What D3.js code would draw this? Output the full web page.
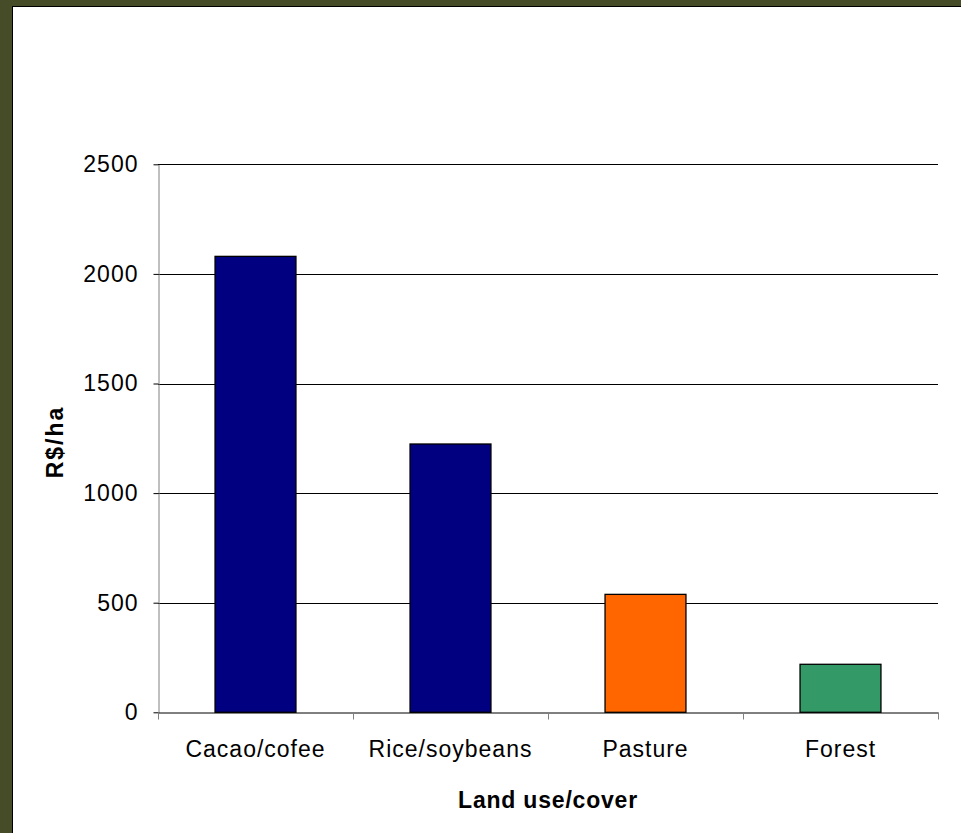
<!DOCTYPE html>
<html><head><meta charset="utf-8">
<script src="https://cdn.jsdelivr.net/npm/d3@7"></script>
<style>html,body{margin:0;padding:0;background:#fff;}svg{display:block;}</style>
</head><body>
<svg id="chart" width="961" height="833"></svg>
<script>
const categories = ["Cacao/cofee", "Rice/soybeans", "Pasture", "Forest"];
const values = [2080, 1224, 538, 219];
const barColors = ["#000080", "#000080", "#FF6600", "#339966"];
const yTicks = [0, 500, 1000, 1500, 2000, 2500];
const yLabel = "R$/ha";
const xLabel = "Land use/cover";

const svg = d3.select("#chart");
const W = 961, H = 833;
// frame
svg.append("rect").attr("x",0).attr("y",0).attr("width",W).attr("height",H).attr("fill","#464C27");
svg.append("rect").attr("x",12).attr("y",6).attr("width",W-12).attr("height",H-6).attr("fill","#000");
svg.append("rect").attr("x",13).attr("y",7).attr("width",W-13).attr("height",H-7).attr("fill","#fff");

const m = {left:158, right:938, top:164.3, bottom:712.3};
const x = d3.scaleBand().domain(categories).range([m.left, m.right]).paddingInner(0.585).paddingOuter(0.2925);
const xb = d3.scaleBand().domain(categories).range([m.left, m.right]);
const y = d3.scaleLinear().domain([0,2500]).range([m.bottom, m.top]);
const font = "Arial, 'Liberation Sans', sans-serif";

// gridlines
svg.append("g").selectAll("line").data(yTicks.filter(d=>d>0)).join("line")
  .attr("x1", m.left).attr("x2", m.right)
  .attr("y1", d=>Math.round(y(d))+0.5).attr("y2", d=>Math.round(y(d))+0.5)
  .attr("stroke","#000").attr("stroke-width",1);

// bars
svg.append("g").selectAll("rect").data(values).join("rect")
  .attr("x",(d,i)=>x(categories[i]))
  .attr("y",d=>y(d))
  .attr("width",x.bandwidth())
  .attr("height",d=>y(0)-y(d))
  .attr("fill",(d,i)=>barColors[i])
  .attr("stroke","#000").attr("stroke-width",1.3);

// y axis
const yAxis = d3.axisLeft(y).tickValues(yTicks).tickFormat(d3.format("d")).tickSize(5).tickPadding(15).tickSizeOuter(0);
const gy = svg.append("g").attr("transform",`translate(${m.left+0.5},0)`).call(yAxis);
gy.select(".domain").attr("stroke","#808080");
gy.selectAll(".tick line").attr("stroke","#000");
gy.selectAll("text").attr("font-family",font).attr("font-size",23).attr("letter-spacing","1px").attr("fill","#000");

// x axis
const xAxis = d3.axisBottom(xb).tickSize(0).tickPadding(28).tickSizeOuter(0);
const gx = svg.append("g").attr("transform",`translate(0,${Math.round(m.bottom)+0.5})`).call(xAxis);
gx.select(".domain").attr("stroke","#000");
gx.selectAll("text").attr("font-family",font).attr("font-size",23).attr("letter-spacing","1px").attr("fill","#000");
// category boundary ticks
const bounds = categories.map(c=>xb(c)).concat([m.right]);
gx.append("g").selectAll("line").data(bounds).join("line")
  .attr("x1",d=>Math.round(d)+0.5).attr("x2",d=>Math.round(d)+0.5)
  .attr("y1",0).attr("y2",7).attr("stroke","#808080");

// axis titles
svg.append("text").attr("x",(m.left+m.right)/2).attr("y",808)
  .attr("text-anchor","middle").attr("font-family",font).attr("font-size",23).attr("font-weight","bold")
  .attr("letter-spacing","0.8px")
  .text(xLabel);
svg.append("text").attr("transform",`translate(63,442) rotate(-90)`)
  .attr("text-anchor","middle").attr("font-family",font).attr("font-size",23).attr("font-weight","bold")
  .attr("letter-spacing","2px")
  .text(yLabel);
</script>
</body></html>
